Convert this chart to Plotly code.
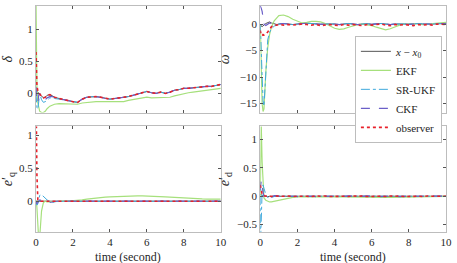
import plotly.graph_objects as go

# time samples (seconds)
t = [0, 0.02, 0.05, 0.1, 0.15, 0.2, 0.3, 0.4, 0.5, 0.6, 0.75, 0.9, 1.0,
     1.25, 1.5, 1.75, 2.0, 2.25, 2.5, 2.75, 3.0, 3.25, 3.5, 3.75, 4.0,
     4.25, 4.5, 4.75, 5.0, 5.25, 5.5, 5.75, 6.0, 6.25, 6.5, 6.75, 7.0,
     7.25, 7.5, 7.75, 8.0, 8.25, 8.5, 8.75, 9.0, 9.25, 9.5, 9.75, 10.0]
x_ticks = [0, 2, 4, 6, 8, 10]

# ---- delta ----
delta_true = [0.05, 0.04, 0.03, 0.02, 0.0, -0.02, -0.04, -0.07, -0.06, -0.03, -0.02, -0.04, -0.06,
              -0.08, -0.10, -0.12, -0.13, -0.14, -0.09, -0.06, -0.05, -0.05, -0.06, -0.08, -0.09,
              -0.08, -0.07, -0.07, -0.05, -0.03, -0.01, 0.02, 0.03, 0.01, 0.0, 0.02, 0.0,
              0.02, 0.05, 0.06, 0.08, 0.08, 0.09, 0.10, 0.10, 0.11, 0.11, 0.12, 0.14]
delta_ekf = [1.45, 0.8, 0.1, -0.15, -0.24, -0.28, -0.30, -0.30, -0.28, -0.24, -0.20, -0.18, -0.17,
             -0.16, -0.16, -0.16, -0.17, -0.17, -0.15, -0.14, -0.13, -0.13, -0.13, -0.13, -0.13,
             -0.13, -0.14, -0.13, -0.11, -0.10, -0.09, -0.07, -0.06, -0.07, -0.07, -0.06, -0.07,
             -0.06, -0.04, -0.02, 0.0, 0.01, 0.02, 0.03, 0.04, 0.05, 0.05, 0.06, 0.08]
delta_ukf = [0.0, -0.12, -0.22, -0.25, -0.05, 0.0, -0.10, -0.14, -0.13, -0.10, -0.07, -0.07, -0.08,
             -0.09, -0.105, -0.12, -0.13, -0.14, -0.09, -0.06, -0.05, -0.05, -0.06, -0.08, -0.09,
             -0.08, -0.07, -0.07, -0.05, -0.03, -0.01, 0.02, 0.03, 0.01, 0.0, 0.02, 0.0,
             0.02, 0.05, 0.06, 0.08, 0.08, 0.09, 0.10, 0.10, 0.11, 0.11, 0.12, 0.14]
delta_ckf = [0.1, 0.0, -0.12, -0.15, -0.02, 0.0, -0.07, -0.10, -0.10, -0.07, -0.05, -0.05, -0.07,
             -0.085, -0.10, -0.12, -0.13, -0.14, -0.09, -0.06, -0.05, -0.05, -0.06, -0.08, -0.09,
             -0.08, -0.07, -0.07, -0.05, -0.03, -0.01, 0.02, 0.03, 0.01, 0.0, 0.02, 0.0,
             0.02, 0.05, 0.06, 0.08, 0.08, 0.09, 0.10, 0.10, 0.11, 0.11, 0.12, 0.14]
delta_obs = [0.65, 0.35, 0.12, 0.04, 0.01, -0.01, -0.04, -0.07, -0.06, -0.03, -0.02, -0.04, -0.06,
             -0.08, -0.10, -0.12, -0.13, -0.14, -0.09, -0.06, -0.05, -0.05, -0.06, -0.08, -0.09,
             -0.08, -0.07, -0.07, -0.05, -0.03, -0.01, 0.02, 0.03, 0.01, 0.0, 0.02, 0.0,
             0.02, 0.05, 0.06, 0.08, 0.08, 0.09, 0.10, 0.10, 0.11, 0.11, 0.12, 0.14]

# ---- omega ----
omega_true = [0.0, -0.2, -0.4, -0.5, -0.4, -0.2, 0.1, 0.3, 0.4, 0.2, 0.0, -0.1, 0.0,
              0.1, 0.0, -0.1, 0.0, 0.1, 0.15, 0.1, 0.0, -0.05, 0.0, 0.05, 0.0,
              -0.1, 0.0, 0.1, 0.0, -0.1, 0.0, 0.05, -0.05, 0.0, 0.1, 0.0, -0.1,
              0.0, 0.05, 0.0, -0.05, 0.0, 0.1, 0.0, -0.05, 0.0, 0.05, 0.1, 0.1]
omega_ekf = [0.0, -4.0, -10.0, -15.0, -16.5, -16.0, -9.0, -4.5, -2.0, -0.6, 0.6, 1.3, 1.6,
             1.7, 1.4, 0.9, 0.5, 0.2, 0.3, 0.5, 0.5, 0.4, 0.1, -0.3, -0.8,
             -1.0, -0.9, -0.6, -0.3, -0.1, 0.0, -0.1, -0.3, -0.6, -0.9, -1.1, -0.9,
             -0.5, -0.2, 0.0, 0.1, 0.1, 0.0, -0.1, 0.0, 0.1, 0.2, 0.3, 0.3]
omega_ukf = [0.0, -2.0, -6.0, -11.0, -14.5, -15.5, -8.0, -3.0, -1.6, -0.9, -0.4, -0.1, 0.0,
             0.1, 0.0, -0.1, 0.0, 0.1, 0.15, 0.1, 0.0, -0.05, 0.0, 0.05, 0.0,
             -0.1, 0.0, 0.1, 0.0, -0.1, 0.0, 0.05, -0.05, 0.0, 0.1, 0.0, -0.1,
             0.0, 0.05, 0.0, -0.05, 0.0, 0.1, 0.0, -0.05, 0.0, 0.05, 0.1, 0.1]
omega_ckf = [3.4, 3.3, 3.0, 2.4, 1.0, 0.0, -0.3, 0.0, 0.2, 0.1, 0.0, -0.1, 0.0,
             0.1, 0.0, -0.1, 0.0, 0.1, 0.15, 0.1, 0.0, -0.05, 0.0, 0.05, 0.0,
             -0.1, 0.0, 0.1, 0.0, -0.1, 0.0, 0.05, -0.05, 0.0, 0.1, 0.0, -0.1,
             0.0, 0.05, 0.0, -0.05, 0.0, 0.1, 0.0, -0.05, 0.0, 0.05, 0.1, 0.1]
omega_obs = [-1.2, -1.8, -2.1, -2.2, -2.0, -2.1, -1.9, -1.5, -0.9, -0.5, -0.3, -0.2, -0.1,
             -0.2, -0.1, -0.2, -0.1, 0.0, -0.1, -0.2, -0.1, -0.3, -0.2, -0.1, -0.2,
             -0.3, -0.1, -0.2, -0.1, -0.2, -0.3, -0.1, -0.2, -0.1, 0.0, -0.2, -0.3,
             -0.1, -0.2, -0.1, -0.2, -0.3, -0.1, -0.2, -0.1, -0.2, 0.0, -0.1, -0.1]

# ---- e'_q ----
eq_true = [0.0, 0.0, 0.0, 0.0, 0.0, 0.0, 0.0, 0.0, 0.0, 0.0, 0.0, 0.0, 0.0,
           0.0, 0.0, 0.0, 0.0, 0.0, 0.0, 0.0, 0.0, 0.0, 0.0, 0.0, 0.0,
           0.0, 0.0, 0.0, 0.0, 0.0, 0.0, 0.0, 0.0, 0.0, 0.0, 0.0, 0.0,
           0.0, 0.0, 0.0, 0.0, 0.0, 0.0, 0.0, 0.0, 0.0, 0.0, 0.0, 0.0]
eq_ekf = [0.0, 0.0, -0.1, -0.4, -0.6, -0.55, -0.15, -0.02, 0.0, -0.01, -0.01, -0.01, -0.01,
          -0.005, 0.0, 0.003, 0.005, 0.01, 0.02, 0.03, 0.04, 0.048, 0.055, 0.061, 0.066,
          0.07, 0.074, 0.077, 0.08, 0.081, 0.082, 0.081, 0.08, 0.078, 0.075, 0.071, 0.066,
          0.061, 0.056, 0.051, 0.046, 0.043, 0.04, 0.037, 0.035, 0.033, 0.032, 0.031, 0.03]
eq_ukf = [0.0, -0.03, -0.06, -0.04, 0.05, 0.09, 0.1, 0.07, 0.04, 0.02, -0.01, -0.02, -0.01,
          0.0, 0.0, 0.0, 0.0, 0.0, 0.0, 0.0, 0.0, 0.0, 0.0, 0.0, 0.0,
          0.0, 0.0, 0.0, 0.0, 0.0, 0.0, 0.0, 0.0, 0.0, 0.0, 0.0, 0.0,
          0.0, 0.0, 0.0, 0.0, 0.0, 0.0, 0.0, 0.0, 0.0, 0.0, 0.0, 0.0]
eq_ckf = [0.0, -0.02, -0.04, -0.02, 0.01, 0.02, 0.01, 0.0, -0.01, -0.015, -0.02, -0.01, -0.005,
          0.0, 0.0, 0.0, 0.0, 0.0, 0.0, 0.0, 0.0, 0.0, 0.0, 0.0, 0.0,
          0.0, 0.0, 0.0, 0.0, 0.0, 0.0, 0.0, 0.0, 0.0, 0.0, 0.0, 0.0,
          0.0, 0.0, 0.0, 0.0, 0.0, 0.0, 0.0, 0.0, 0.0, 0.0, 0.0, 0.0]
eq_obs = [1.25, 1.2, 0.4, 0.02, 0.0, 0.0, 0.0, 0.0, 0.0, 0.0, 0.0, 0.0, 0.0,
          0.0, 0.0, 0.0, 0.0, 0.0, 0.0, 0.0, 0.0, 0.0, 0.0, 0.0, 0.0,
          0.0, 0.0, 0.0, 0.0, 0.0, 0.0, 0.0, 0.0, 0.0, 0.0, 0.0, 0.0,
          0.0, 0.0, 0.0, 0.0, 0.0, 0.0, 0.0, 0.0, 0.0, 0.0, 0.0, 0.0]

# ---- e'_d ----
ed_true = [0.03, 0.03, 0.02, 0.02, 0.01, 0.0, 0.0, -0.01, 0.0, 0.005, 0.0, 0.0, 0.0,
           0.0, 0.005, 0.0, -0.005, 0.0, 0.005, 0.0, -0.005, 0.0, 0.005, 0.0, 0.0,
           -0.005, 0.0, 0.005, 0.0, -0.005, 0.0, 0.005, 0.0, 0.0, -0.005, 0.0, 0.005,
           0.0, -0.005, 0.0, 0.005, 0.0, 0.0, -0.005, 0.0, 0.005, 0.0, 0.0, 0.0]
ed_ekf = [0.0, 0.9, 1.3, 0.6, 0.1, -0.03, -0.07, -0.09, -0.1, -0.1, -0.09, -0.07, -0.06,
          -0.045, -0.03, -0.02, -0.012, -0.01, -0.008, -0.006, -0.005, -0.005, -0.005, -0.006, -0.008,
          -0.01, -0.01, -0.008, -0.006, -0.005, -0.006, -0.008, -0.01, -0.012, -0.015, -0.018, -0.02,
          -0.018, -0.015, -0.012, -0.01, -0.008, -0.006, -0.005, -0.004, -0.004, -0.003, -0.003, -0.003]
ed_ukf = [0.0, -0.7, -0.45, 0.1, 0.2, 0.14, 0.03, -0.02, -0.03, -0.02, 0.0, 0.01, 0.0,
          0.0, 0.005, 0.0, -0.005, 0.0, 0.005, 0.0, -0.005, 0.0, 0.005, 0.0, 0.0,
          -0.005, 0.0, 0.005, 0.0, -0.005, 0.0, 0.005, 0.0, 0.0, -0.005, 0.0, 0.005,
          0.0, -0.005, 0.0, 0.005, 0.0, 0.0, -0.005, 0.0, 0.005, 0.0, 0.0, 0.0]
ed_ckf = [0.1, 0.25, 0.28, 0.18, 0.06, -0.01, -0.05, -0.05, -0.03, -0.01, 0.01, 0.01, 0.0,
          0.0, 0.005, 0.0, -0.005, 0.0, 0.005, 0.0, -0.005, 0.0, 0.005, 0.0, 0.0,
          -0.005, 0.0, 0.005, 0.0, -0.005, 0.0, 0.005, 0.0, 0.0, -0.005, 0.0, 0.005,
          0.0, -0.005, 0.0, 0.005, 0.0, 0.0, -0.005, 0.0, 0.005, 0.0, 0.0, 0.0]
ed_obs = [0.2, 0.15, 0.08, 0.03, 0.02, 0.01, 0.0, 0.01, 0.0, -0.005, 0.005, 0.0, 0.005,
          0.0, 0.005, -0.005, 0.0, 0.005, 0.0, -0.005, 0.005, 0.0, 0.005, -0.005, 0.0,
          0.005, 0.0, -0.005, 0.005, 0.0, 0.005, -0.005, 0.0, 0.005, 0.0, -0.005, 0.005,
          0.0, 0.005, -0.005, 0.0, 0.005, 0.0, -0.005, 0.005, 0.0, 0.005, 0.0, 0.0]

series_names = ["<i>x</i> − <i>x</i><sub>0</sub>", "EKF", "SR-UKF", "CKF", "observer"]
colors = ["#555555", "#a6e07c", "#3fa9dc", "#6b5fc8", "#e8202a"]
dashes = ["solid", "solid", "dashdot", "dash", "dot"]
widths = [1, 1.2, 1, 1.2, 1.6]

panels = [
    ("x", "y", [delta_true, delta_ekf, delta_ukf, delta_ckf, delta_obs]),
    ("x2", "y2", [omega_true, omega_ekf, omega_ukf, omega_ckf, omega_obs]),
    ("x3", "y3", [eq_true, eq_ekf, eq_ukf, eq_ckf, eq_obs]),
    ("x4", "y4", [ed_true, ed_ekf, ed_ukf, ed_ckf, ed_obs]),
]

fig = go.Figure()
for pi, (xa, ya, data) in enumerate(panels):
    for si, vals in enumerate(data):
        fig.add_trace(go.Scatter(
            x=t, y=vals, xaxis=xa, yaxis=ya, mode="lines",
            name=series_names[si],
            line=dict(color=colors[si], dash=dashes[si], width=widths[si]),
            showlegend=(pi == 1),
        ))

SERIF = "Liberation Serif"
axcommon = dict(showline=True, linecolor="#bdbdbd", linewidth=1, mirror="allticks",
                ticks="inside", ticklen=3, tickcolor="#555555", showgrid=False,
                zeroline=False, ticklabeloverflow="allow",
                tickfont=dict(family=SERIF, size=11, color="#262626"))

xd1 = [0, 0.4506]
xd2 = [0.547, 1]
yd_top = [0.5286, 1]
yd_bot = [0, 0.467]

xt = dict(tickvals=x_ticks, range=[0, 10])
ytitle_font = dict(family=SERIF, size=14, color="#262626")
fig.update_layout(
    width=457, height=263,
    margin=dict(l=36, r=6, t=5, b=31),
    paper_bgcolor="white", plot_bgcolor="white",
    font=dict(family=SERIF, size=12, color="#262626"),
    xaxis=dict(domain=xd1, anchor="y", showticklabels=False, **xt, **axcommon),
    xaxis2=dict(domain=xd2, anchor="y2", showticklabels=False, **xt, **axcommon),
    xaxis3=dict(domain=xd1, anchor="y3", **xt, **axcommon),
    xaxis4=dict(domain=xd2, anchor="y4", **xt, **axcommon),
    yaxis=dict(domain=yd_top, anchor="x", range=[-0.3, 1.37], tickvals=[0, 0.5, 1],
               ticktext=["0", "0.5", "1"], title=dict(text="<i>δ</i>", standoff=4, font=ytitle_font), **axcommon),
    yaxis2=dict(domain=yd_top, anchor="x2", range=[-16.7, 3.4], tickvals=[-15, -10, -5, 0],
                title=dict(text="<i>ω</i>", standoff=6, font=ytitle_font), **axcommon),
    yaxis3=dict(domain=yd_bot, anchor="x3", range=[-0.47, 1.14], tickvals=[0, 0.5, 1],
                title=dict(text="<i>e</i>′<sub>q</sub>", standoff=4, font=ytitle_font), **axcommon),
    yaxis4=dict(domain=yd_bot, anchor="x4", range=[-0.63, 1.23], tickvals=[-0.5, 0, 0.5, 1],
                title=dict(text="<i>e</i>′<sub>d</sub>", standoff=4, font=ytitle_font), **axcommon),
    legend=dict(x=0.99, xanchor="right", y=0.868, yanchor="top",
                bgcolor="white", bordercolor="#bdbdbd", borderwidth=1,
                font=dict(family=SERIF, size=11, color="#262626"), tracegroupgap=0,
                itemwidth=30),
    annotations=[
        dict(text="time (second)", xref="paper", yref="paper",
             x=(xd1[0] + xd1[1]) / 2, y=-0.112, xanchor="center", yanchor="middle",
             showarrow=False, font=dict(family=SERIF, size=12, color="#262626")),
        dict(text="time (second)", xref="paper", yref="paper",
             x=(xd2[0] + xd2[1]) / 2, y=-0.112, xanchor="center", yanchor="middle",
             showarrow=False, font=dict(family=SERIF, size=12, color="#262626")),
    ],
)

fig.write_html("out.html", config={"displayModeBar": False},
               post_script="document.body.style.margin='0';document.body.style.overflow='hidden';")
